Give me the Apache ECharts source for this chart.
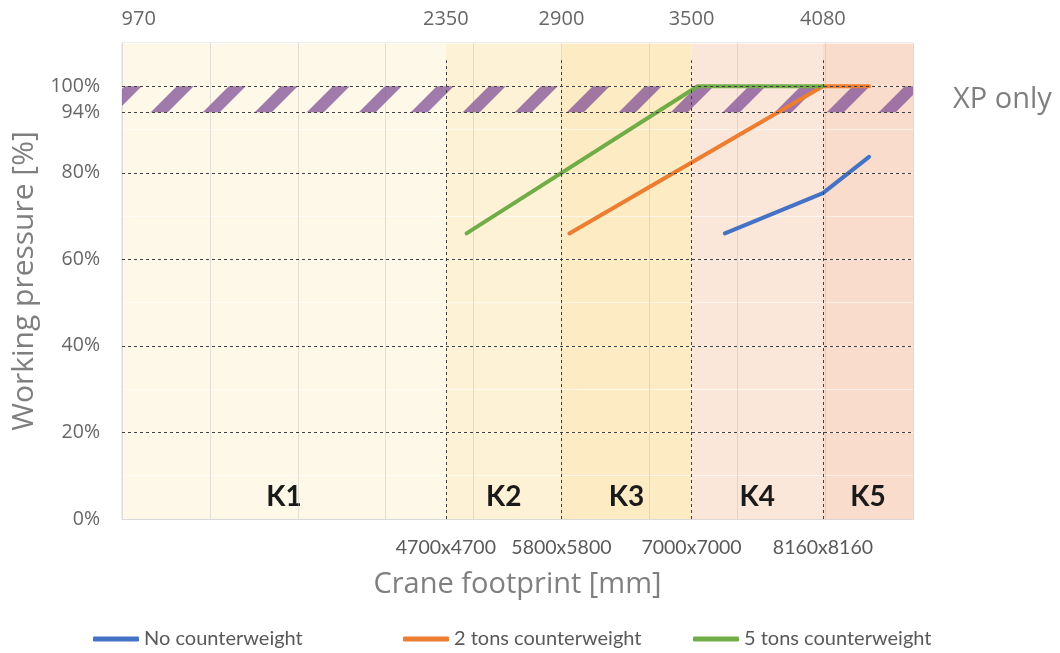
<!DOCTYPE html>
<html>
<head>
<meta charset="utf-8">
<script src="https://cdn.jsdelivr.net/npm/echarts@6/dist/echarts.min.js"></script>
<style>
html,body{margin:0;padding:0;background:#fff;}
#chart{width:1060px;height:653px;}
</style>
</head>
<body>
<div id="chart"></div>
<script>
// ---- data ----
const zoneBounds = [0, 3.685, 5.0, 6.48, 7.975, 9];
const zoneNames = ['K1', 'K2', 'K3', 'K4', 'K5'];
const zoneColors = ['#FEF8E8', '#FDF1D6', '#FCEBC3', '#FBE6DA', '#F9DCCB'];
const dividerX = [3.685, 5.0, 6.48, 7.975];
const topLabels = ['2350', '2900', '3500', '4080'];
const firstTopLabel = '970';
const firstTopLabelX = 0.19;
const footprintLabels = ['4700x4700', '5800x5800', '7000x7000', '8160x8160'];
const yTickLabels = [0, 20, 40, 60, 80, 100];
const dashedY = [20, 40, 60, 80, 94, 100];
const xpBand = [94, 100];
const seriesNames = ['No counterweight', '2 tons counterweight', '5 tons counterweight'];
const noCounterweight = [[6.86, 66], [7.975, 75.3], [8.5, 83.7]];
const twoTons = [[5.09, 66], [7.975, 100], [8.5, 100]];
const fiveTons = [[3.92, 66], [6.55, 100], [7.975, 100]];
const lineColors = ['#4472C4', '#ED7D31', '#70AD47'];

function makeHatch() {
  const c = document.createElement('canvas');
  c.width = 52; c.height = 52;
  const g = c.getContext('2d');
  g.fillStyle = 'rgba(128,80,150,0.75)';
  [3, 55].forEach(a => {
    g.beginPath();
    g.moveTo(a, 0); g.lineTo(a + 17, 0); g.lineTo(a + 17 - 52, 52); g.lineTo(a - 52, 52);
    g.closePath(); g.fill();
  });
  return c;
}

const FONT = 'Open Sans';
const NARROW = 'Lato';

const chart = echarts.init(document.getElementById('chart'));

const zoneAreas = zoneNames.map((n, i) => [
  { name: n, xAxis: zoneBounds[i], itemStyle: { color: zoneColors[i] } },
  { xAxis: zoneBounds[i + 1] }
]);

const vLines = dividerX.map((x, i) => [
  { coord: [x, 0], name: topLabels[i] },
  { coord: [x, 106] }
]);

const bottomLabelLines = dividerX.map((x, i) => [
  { coord: [x, 0], name: footprintLabels[i] },
  { coord: [x, 0.5] }
]);

const hLines = dashedY.map(v => ({
  yAxis: v,
  label: v === 94 ? { show: true, formatter: '94%', position: 'start', distance: 22,
    fontFamily: FONT, fontSize: 19.5, color: '#666' } : { show: false }
}));

const legendCommon = {
  top: 624, itemWidth: 46, itemHeight: 5, icon: 'roundRect', itemGap: 8,
  textStyle: { fontFamily: NARROW, fontSize: 20, color: '#595959' }
};

chart.setOption({
  animation: false,
  grid: { left: 122, right: 147, top: 43, bottom: 134, show: true,
    borderColor: '#D9D9D9', borderWidth: 1, backgroundColor: 'transparent' },
  legend: [
    Object.assign({ data: [seriesNames[0]], left: 88 }, legendCommon),
    Object.assign({ data: [seriesNames[1]], left: 398 }, legendCommon),
    Object.assign({ data: [seriesNames[2]], left: 688 }, legendCommon)
  ],
  xAxis: {
    type: 'value', min: 0, max: 9, interval: 1, z: 1,
    axisLabel: { show: false }, axisTick: { show: false },
    axisLine: { show: true, lineStyle: { color: '#D9D9D9' } },
    splitLine: { show: true, lineStyle: { color: 'rgba(190,190,190,0.45)', width: 1 } },
    name: 'Crane footprint [mm]', nameLocation: 'middle', nameGap: 51,
    nameTextStyle: { fontFamily: FONT, fontSize: 29, color: '#7F7F7F' }
  },
  yAxis: {
    type: 'value', min: 0, max: 110, interval: 10, z: 1,
    axisLabel: { margin: 22, fontFamily: FONT, fontSize: 19.5, color: '#666',
      formatter: v => yTickLabels.includes(v) ? v + '%' : '' },
    axisTick: { show: false }, axisLine: { show: false },
    splitLine: { show: true, lineStyle: { color: 'rgba(255,255,255,0.6)', width: 1 } },
    name: 'Working pressure [%]', nameLocation: 'middle', nameGap: 76,
    nameTextStyle: { fontFamily: FONT, fontSize: 30, color: '#7F7F7F' }
  },
  series: [
    {
      name: 'zones', type: 'line', data: [], z: 0, silent: true,
      markArea: {
        silent: true, z: 0,
        label: { show: true, position: 'insideBottom', distance: 8, fontFamily: NARROW,
          fontWeight: 'bold', fontSize: 28, color: '#1A1A1A' },
        data: zoneAreas
      }
    },
    {
      name: 'grid-lines', type: 'line', data: [], z: 2, silent: true,
      markLine: {
        silent: true, symbol: ['none', 'none'],
        lineStyle: { type: [3, 3], color: '#404040', width: 1 },
        label: { show: false },
        data: hLines
      }
    },
    {
      name: 'dividers', type: 'line', data: [], z: 2, silent: true,
      markLine: {
        silent: true, symbol: ['none', 'none'],
        lineStyle: { type: [3, 3], color: '#404040', width: 1 },
        label: { show: true, position: 'end', distance: 31, formatter: '{b}',
          fontFamily: FONT, fontSize: 20, color: '#666' },
        data: vLines.concat([[
          { coord: [firstTopLabelX, 105], name: firstTopLabel, lineStyle: { color: 'transparent' } },
          { coord: [firstTopLabelX, 106], lineStyle: { color: 'transparent' } }
        ]])
      }
    },
    {
      name: 'footprints', type: 'line', data: [], z: 2, silent: true,
      markLine: {
        silent: true, symbol: ['none', 'none'],
        lineStyle: { color: 'transparent' },
        label: { show: true, position: 'start', distance: 19, formatter: '{b}',
          fontFamily: NARROW, fontSize: 19.5, color: '#595959' },
        data: bottomLabelLines
      }
    },
    {
      name: seriesNames[0], type: 'line', data: noCounterweight, symbol: 'none', z: 3,
      color: lineColors[0], lineStyle: { width: 4, color: lineColors[0], cap: 'round' }
    },
    {
      name: seriesNames[1], type: 'line', data: twoTons, symbol: 'none', z: 3,
      color: lineColors[1], lineStyle: { width: 4, color: lineColors[1], cap: 'round' }
    },
    {
      name: seriesNames[2], type: 'line', data: fiveTons, symbol: 'none', z: 3,
      color: lineColors[2], lineStyle: { width: 4, color: lineColors[2], cap: 'round' }
    },
    {
      name: 'xp-band', type: 'line', data: [], z: 4, silent: true,
      markArea: {
        silent: true,
        label: { show: true, position: 'right', distance: 40, fontFamily: FONT,
          fontSize: 29, color: '#7F7F7F' },
        itemStyle: { color: { image: makeHatch(), repeat: 'repeat' } },
        data: [[{ name: 'XP only', yAxis: xpBand[0] }, { yAxis: xpBand[1] }]]
      }
    }
  ]
});
</script>
</body>
</html>
